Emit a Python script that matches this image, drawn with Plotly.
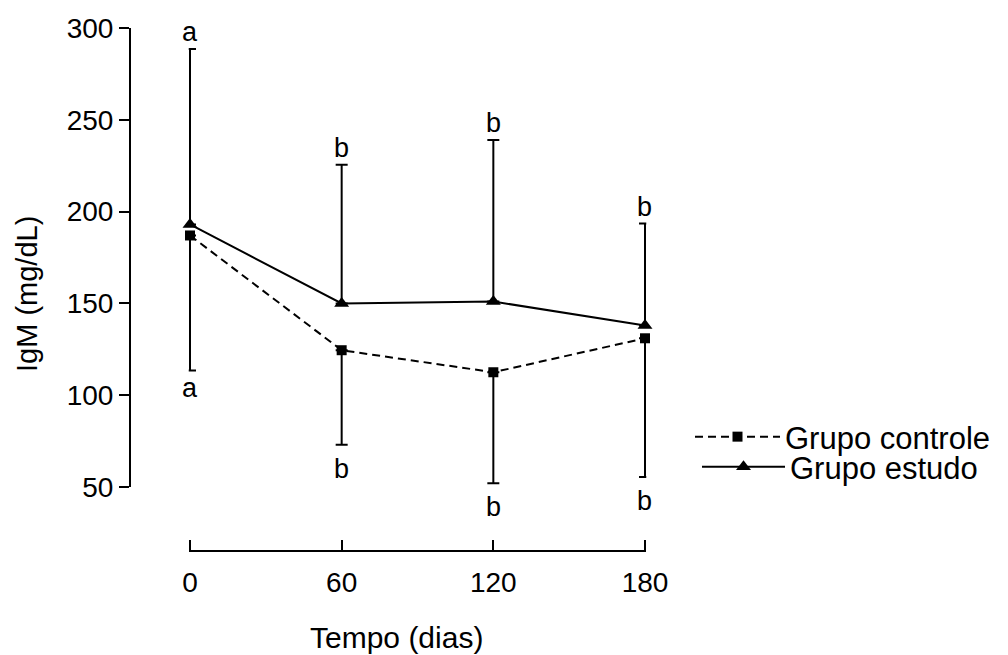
import plotly.graph_objects as go

# ---- data ----
dias = [0, 60, 120, 180]
controle_media = [187, 124.5, 112.5, 131]
controle_inferior = [113.5, 73, 52, 55.5]
estudo_media = [193, 150, 151, 138]
estudo_superior = [288.5, 225.5, 239, 193.5]
letras_superiores = ["a", "b", "b", "b"]
letras_inferiores = ["a", "b", "b", "b"]
y_ticks = [50, 100, 150, 200, 250, 300]
x_ticks = [0, 60, 120, 180]

FONT = "Liberation Sans, Arial, sans-serif"
W, H = 1008, 655
L, R, T, B = 130, 360, 28, 105
PW, PH = W - L - R, H - T - B

# pixel geometry of the reference axes
X0_PX, X180_PX = 190, 645          # x = 0 and x = 180
Y50_PX, Y300_PX = 487, 28          # y = 50 and y = 300
XPAD = 0.5
x_per_px = 180 / (X180_PX - X0_PX)
x_lo, x_hi = -XPAD, 180 + XPAD
x_dom0 = max(0.0, ((X0_PX - XPAD / x_per_px) - L) / PW)
x_dom1 = min(1.0, ((X180_PX + XPAD / x_per_px) - L) / PW)

y_per_px = 250 / (Y50_PX - Y300_PX)
y_bottom = 50 - (T + PH - Y50_PX) * y_per_px   # value at the bottom of plot area

fig = go.Figure()

# empty trace so the visible (ticked) y axis exists
fig.add_trace(go.Scatter(x=[], y=[], xaxis="x", yaxis="y2", showlegend=False,
                         hoverinfo="skip"))

fig.add_trace(go.Scatter(
    x=dias, y=controle_media, name="Grupo controle", legend="legend",
    mode="lines+markers",
    line=dict(color="black", width=2, dash="8px,5px"),
    marker=dict(symbol="square", size=10, color="black"),
    error_y=dict(type="data", symmetric=False,
                 array=[0 for _ in dias],
                 arrayminus=[m - lo for m, lo in zip(controle_media, controle_inferior)],
                 color="black", thickness=2, width=6),
    cliponaxis=False,
))

fig.add_trace(go.Scatter(
    x=dias, y=estudo_media, name="Grupo estudo", legend="legend2",
    mode="lines+markers",
    line=dict(color="black", width=2),
    marker=dict(symbol="triangle-up", size=13, color="black"),
    error_y=dict(type="data", symmetric=False,
                 array=[hi - m for m, hi in zip(estudo_media, estudo_superior)],
                 arrayminus=[0 for _ in dias],
                 color="black", thickness=2, width=6),
    cliponaxis=False,
))

annotations = []
for xv, yv, t in zip(dias, estudo_superior, letras_superiores):
    annotations.append(dict(x=xv, y=yv, xref="x", yref="y", text=t, showarrow=False,
                            xanchor="center", yanchor="middle", yshift=17,
                            font=dict(family=FONT, size=27, color="black")))
for xv, yv, t in zip(dias, controle_inferior, letras_inferiores):
    annotations.append(dict(x=xv, y=yv, xref="x", yref="y", text=t, showarrow=False,
                            xanchor="center", yanchor="middle",
                            yshift=-18 if t == "a" else -24,
                            font=dict(family=FONT, size=27, color="black")))

# axis titles
annotations.append(dict(x=(27 - L) / PW, y=(T + PH - 294) / PH, xref="paper", yref="paper",
                        text="IgM (mg/dL)", textangle=-90, showarrow=False,
                        xanchor="center", yanchor="middle",
                        font=dict(family=FONT, size=29, color="black")))
annotations.append(dict(x=(396 - L) / PW, y=(T + PH - 637) / PH, xref="paper", yref="paper",
                        text="Tempo (dias)", showarrow=False,
                        xanchor="center", yanchor="middle",
                        font=dict(family=FONT, size=30, color="black")))

leg_font = dict(family=FONT, size=31, color="black")
tick_font = dict(family=FONT, size=28, color="black")
fig.update_layout(
    width=W, height=H,
    margin=dict(l=L, r=R, t=T, b=B, pad=0),
    paper_bgcolor="white", plot_bgcolor="rgba(0,0,0,0)",
    font=dict(family=FONT, size=27, color="black"),
    showlegend=True,
    legend=dict(x=(690 - L) / PW, y=(T + PH - 437) / PH, xanchor="left", yanchor="middle",
                xref="paper", yref="paper", bgcolor="rgba(0,0,0,0)",
                itemwidth=85, font=leg_font),
    legend2=dict(x=(697 - L) / PW, y=(T + PH - 467) / PH, xanchor="left", yanchor="middle",
                 xref="paper", yref="paper", bgcolor="rgba(0,0,0,0)",
                 itemwidth=83, font=leg_font),
    annotations=annotations,
    xaxis=dict(domain=[x_dom0, x_dom1], range=[x_lo, x_hi],
               tickvals=x_ticks, ticktext=[str(v) for v in x_ticks],
               ticks="inside", ticklen=10, tickwidth=2, tickcolor="black",
               ticklabelstandoff=6,
               showline=True, linewidth=2, linecolor="black",
               showgrid=False, zeroline=False, anchor="y",
               automargin=False, fixedrange=True,
               tickfont=tick_font),
    yaxis=dict(domain=[0, 1], range=[y_bottom, 300],
               showline=False, showticklabels=False, ticks="",
               showgrid=False, zeroline=False, automargin=False, fixedrange=True),
    yaxis2=dict(domain=[(T + PH - Y50_PX) / PH, 1], range=[50, 300],
                tickvals=y_ticks, ticktext=[str(v) for v in y_ticks],
                ticks="outside", ticklen=10, tickwidth=2, tickcolor="black",
                showline=True, linewidth=2, linecolor="black",
                showgrid=False, zeroline=False, anchor="free", position=0,
                automargin=False, fixedrange=True,
                tickfont=tick_font),
)

fig.write_html("out.html")
